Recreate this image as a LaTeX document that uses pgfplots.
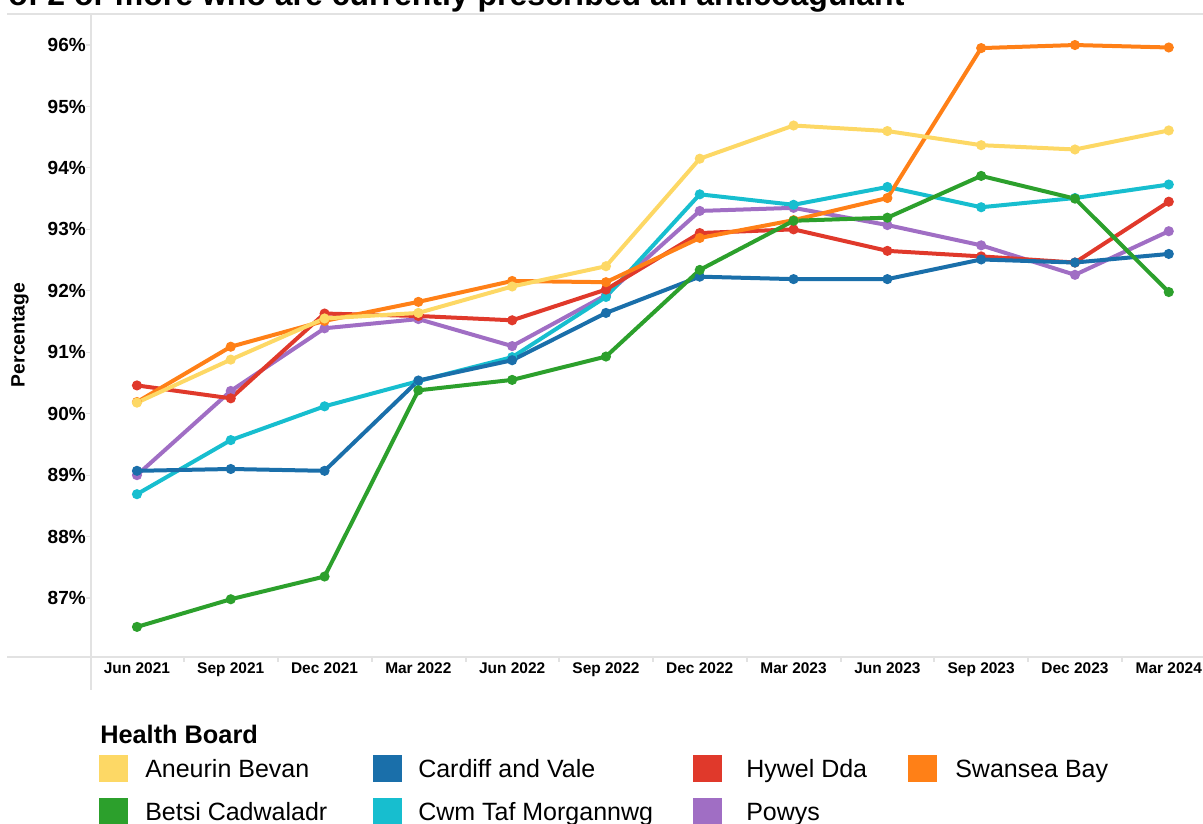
\documentclass[border=0pt]{standalone}
\usepackage{fontspec}
\setmainfont{Liberation Sans}
\usepackage{pgfplots}
\pgfplotsset{compat=1.18}

\definecolor{aneurin}{HTML}{FDD865}
\definecolor{cardiff}{HTML}{1A6FAA}
\definecolor{hywel}{HTML}{E0392B}
\definecolor{swansea}{HTML}{FF8017}
\definecolor{betsi}{HTML}{2CA02C}
\definecolor{cwmtaf}{HTML}{17BECF}
\definecolor{powys}{HTML}{A06EC4}
\definecolor{rule}{HTML}{E2E2E2}

\pgfplotsset{
  board/.style={line width=3pt, mark=*, mark size=2.2pt,
    mark options={solid, fill=#1}, color=#1},
}

\begin{document}
\begin{tikzpicture}
% frame pieces, in pixels of the reference (y downwards)
\begin{scope}[x=0.75pt, y=-0.75pt]
  \node[anchor=base west, inner sep=0pt, font=\bfseries\fontsize{24}{28}\selectfont]
    at (8,5.5) {of 2 or more who are currently prescribed an anticoagulant};
  \draw[rule, line width=1pt] (7,14) -- (1203,14);
  \draw[rule, line width=1pt] (7,657) -- (1203,657);
  \draw[rule, line width=1pt] (91,14) -- (91,690);
  \foreach \xx in {184,278,372,466,559,653,747,841,934,1028,1122}
    \draw[rule, line width=0.8pt] (\xx,657) -- (\xx,662);
  \node[rotate=90, font=\bfseries\fontsize{14.5}{17}\selectfont] at (20,335) {Percentage};

  % legend
  \node[anchor=base west, inner sep=0pt, font=\bfseries\fontsize{19}{22}\selectfont]
    at (100,743) {Health Board};
  \foreach \sx/\tx/\yy/\col/\name in {
      99/145/768/aneurin/Aneurin Bevan,
      373/418/768/cardiff/Cardiff and Vale,
      693/746/768/hywel/Hywel Dda,
      908/955/768/swansea/Swansea Bay,
      99/145/811/betsi/Betsi Cadwaladr,
      373/418/811/cwmtaf/Cwm Taf Morgannwg,
      693/746/811/powys/Powys} {
    \fill[\col] (\sx,\yy-13.5) rectangle ++(29,27);
    \node[anchor=base west, inner sep=0pt, font=\fontsize{18.75}{22}\selectfont]
      at (\tx,\yy+9) {\name};
  }
\end{scope}

\begin{axis}[
  at={(68.25pt,-492.75pt)}, anchor=south west,
  scale only axis, width=834pt, height=482.25pt,
  xmin=-0.49, xmax=11.365, ymin=86.04, ymax=96.505,
  axis line style={draw=none},
  xtick={0,...,11},
  xticklabels={Jun 2021,Sep 2021,Dec 2021,Mar 2022,Jun 2022,Sep 2022,
    Dec 2022,Mar 2023,Jun 2023,Sep 2023,Dec 2023,Mar 2024},
  ytick={87,...,96},
  yticklabels={87\%,88\%,89\%,90\%,91\%,92\%,93\%,94\%,95\%,96\%},
  tick align=outside, ytick pos=left, xtick pos=bottom,
  major tick length=3.75pt,
  xtick style={draw=none},
  ytick style={rule, line width=0.8pt},
  xticklabel style={font=\bfseries\fontsize{11.6}{13}\selectfont,
    anchor=base, yshift=-8.6pt},
  yticklabel style={font=\bfseries\fontsize{14.25}{16}\selectfont,
    anchor=east, inner sep=0pt},
  clip=false,
]
\addplot[board=powys] coordinates {
  (0,89.00)(1,90.37)(2,91.39)(3,91.54)(4,91.10)(5,91.93)
  (6,93.30)(7,93.35)(8,93.07)(9,92.74)(10,92.26)(11,92.97)};
\addplot[board=cwmtaf] coordinates {
  (0,88.69)(1,89.57)(2,90.12)(3,90.53)(4,90.92)(5,91.90)
  (6,93.57)(7,93.40)(8,93.69)(9,93.36)(10,93.51)(11,93.73)};
\addplot[board=hywel] coordinates {
  (0,90.46)(1,90.25)(2,91.63)(3,91.59)(4,91.52)(5,92.02)
  (6,92.94)(7,93.00)(8,92.65)(9,92.56)(10,92.46)(11,93.45)};
\addplot[board=swansea] coordinates {
  (0,90.19)(1,91.09)(2,91.51)(3,91.82)(4,92.16)(5,92.14)
  (6,92.86)(7,93.15)(8,93.51)(9,95.95)(10,96.00)(11,95.96)};
\addplot[board=cardiff] coordinates {
  (0,89.07)(1,89.10)(2,89.07)(3,90.54)(4,90.87)(5,91.64)
  (6,92.23)(7,92.19)(8,92.19)(9,92.51)(10,92.46)(11,92.60)};
\addplot[board=betsi] coordinates {
  (0,86.53)(1,86.98)(2,87.35)(3,90.38)(4,90.55)(5,90.93)
  (6,92.34)(7,93.14)(8,93.19)(9,93.87)(10,93.50)(11,91.98)};
\addplot[board=aneurin] coordinates {
  (0,90.18)(1,90.88)(2,91.55)(3,91.64)(4,92.07)(5,92.40)
  (6,94.15)(7,94.69)(8,94.60)(9,94.37)(10,94.30)(11,94.61)};
\end{axis}

\pgfresetboundingbox
\useasboundingbox (0,0) rectangle (902.25pt,-618pt);
\end{tikzpicture}
\end{document}
